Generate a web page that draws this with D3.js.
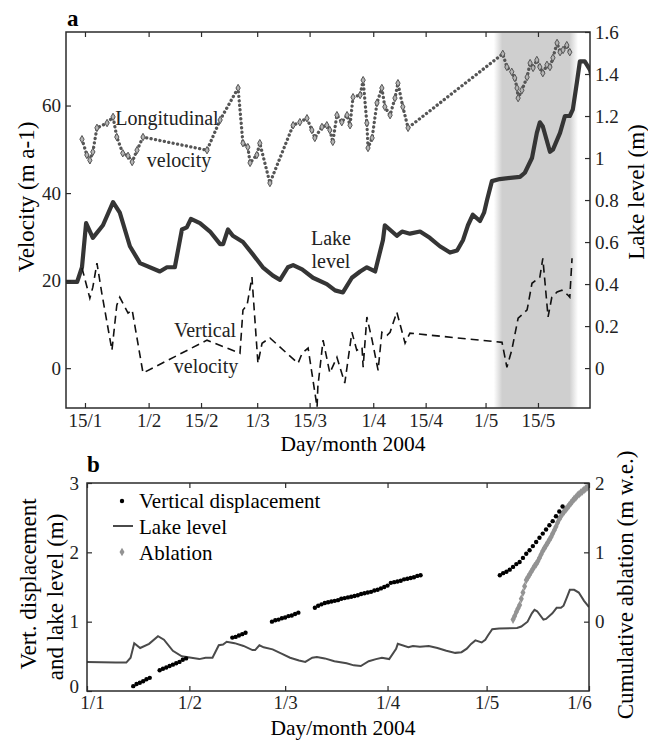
<!DOCTYPE html>
<html><head><meta charset="utf-8">
<script src="https://cdn.jsdelivr.net/npm/d3@7"></script>
<style>
body{margin:0;background:#fff;}
svg{display:block;font-family:"Liberation Serif","Times New Roman",serif;}
</style></head>
<body><svg id="c" width="648" height="740"></svg>
<script>
// ---------- DATA (day of year 2004) ----------
const aTickDays = [15, 32, 46, 61, 75, 92, 106, 122, 136];
const aTickLabels = ["15/1","1/2","15/2","1/3","15/3","1/4","15/4","1/5","15/5"];
const bTickDays = [1, 32, 61, 92, 122, 153];
const bTickLabels = ["1/1","1/2","1/3","1/4","1/5","1/6"];
const velTicks = [0, 20, 40, 60];
const lakeTicks = [0, 0.2, 0.4, 0.6, 0.8, 1, 1.2, 1.4, 1.6];
const dispTicks = [0, 1, 2, 3];
const ablTicks = [0, 1, 2];
const shadeDays = [125.8, 145.1];

const lakeDays = [1, 9.7, 12.9, 14.2, 15.3, 17.1, 19.8, 22.5, 24.3, 27.0, 29.7, 35.0, 36.9, 39.0, 40.9, 42.2, 43.3, 45.7, 48.4, 51.1, 51.9, 53.2, 54.5, 57.2, 59.9, 62.5, 65.2, 67.1, 69.2, 70.6, 73.0, 75.9, 79.6, 81.8, 83.9, 86.3, 88.5, 90.3, 92.5, 94.6, 95.1, 98.3, 99.7, 101.8, 104.5, 107.1, 109.8, 112.5, 114.4, 116.0, 117.3, 118.6, 120.5, 121.6, 122.4, 123.7, 125.8, 131.2, 132.5, 134.4, 135.7, 136.5, 137.3, 139.2, 140.0, 141.9, 143.2, 144.5, 145.3, 146.4, 147.2, 148.5, 149.9, 151.5, 153];
const lakeLevel = [0.42, 0.41, 0.41, 0.48, 0.69, 0.62, 0.68, 0.79, 0.74, 0.58, 0.50, 0.46, 0.48, 0.48, 0.66, 0.67, 0.71, 0.69, 0.65, 0.59, 0.59, 0.66, 0.63, 0.60, 0.54, 0.48, 0.44, 0.42, 0.48, 0.49, 0.47, 0.43, 0.40, 0.37, 0.36, 0.43, 0.46, 0.48, 0.46, 0.61, 0.68, 0.63, 0.65, 0.64, 0.65, 0.62, 0.58, 0.55, 0.56, 0.61, 0.68, 0.73, 0.70, 0.74, 0.80, 0.89, 0.90, 0.91, 0.93, 1.00, 1.12, 1.17, 1.15, 1.03, 1.04, 1.12, 1.20, 1.20, 1.23, 1.36, 1.46, 1.46, 1.42, 1.30, 1.21];

const lonDays = [14.2, 15.5, 16.3, 17.1, 18.2, 20.9, 22.5, 23.5, 25.1, 26.5, 27.6, 28.9, 30.5, 47.6, 51.1, 55.9, 57.2, 58.5, 59.1, 60.9, 61.7, 64.4, 70.6, 72.4, 74.3, 75.6, 76.4, 78.3, 79.6, 80.4, 81.2, 82.3, 83.6, 85.0, 85.8, 86.6, 88.5, 89.3, 90.3, 90.6, 91.7, 93.0, 94.3, 95.1, 96.5, 97.8, 98.6, 99.9, 101.3, 126.6, 127.7, 129.0, 129.8, 130.4, 130.7, 131.7, 133.1, 133.9, 134.7, 135.7, 136.5, 137.3, 138.4, 139.2, 140.0, 141.1, 141.9, 142.7, 143.7, 144.5];
const lonVel = [52.3, 48.7, 47.5, 49.4, 54.9, 56.0, 57.4, 52.8, 49.1, 48.5, 47.1, 49.8, 52.8, 49.8, 56.7, 64.0, 51.4, 50.5, 46.9, 48.7, 51.4, 42.3, 55.5, 56.2, 57.1, 54.4, 52.6, 55.1, 55.5, 54.4, 51.7, 57.8, 56.2, 57.8, 55.5, 61.9, 62.4, 65.8, 56.0, 50.3, 52.6, 60.6, 64.0, 59.7, 57.8, 61.7, 65.1, 59.7, 54.9, 71.8, 68.8, 67.7, 66.3, 64.0, 61.7, 63.5, 66.5, 69.7, 68.6, 70.4, 68.8, 67.4, 69.3, 68.8, 70.9, 74.3, 72.2, 72.7, 73.8, 72.2];

const vertDays = [14.2, 16.3, 17.1, 18.2, 19.5, 22.2, 23.5, 24.3, 26.5, 27.6, 30.5, 47.6, 56.4, 57.2, 58.3, 59.6, 61.2, 62.3, 64.4, 71.9, 73.0, 74.6, 77.0, 77.2, 78.6, 80.4, 82.3, 83.1, 84.4, 86.3, 87.6, 89.0, 89.3, 90.3, 91.7, 93.3, 94.3, 95.7, 96.5, 98.3, 100.5, 101.8, 126.4, 127.7, 129.0, 130.7, 133.1, 134.4, 136.5, 137.3, 138.7, 139.7, 141.1, 142.4, 144.0, 144.5, 145.1];
const vertVel = [22.9, 16.0, 18.5, 24.0, 17.1, 4.1, 14.4, 16.2, 12.6, 13.3, -1.1, 6.4, 3.4, 13.3, 14.4, 20.8, 1.1, 5.7, 6.9, 1.1, 3.4, 4.6, -8.9, -4.3, 6.4, -1.1, 2.5, 0.2, -3.4, 8.2, 4.1, 4.8, 0.2, 11.7, 6.4, -0.5, 8.2, 7.5, 8.2, 12.8, 5.7, 8.0, 5.9, 0.2, 4.1, 11.4, 13.3, 19.4, 20.8, 25.1, 11.7, 16.2, 17.4, 17.8, 16.7, 16.2, 25.1];

const dispDays = [15, 16, 17, 18, 19, 20, 23, 24, 25, 26, 27, 28, 29, 30, 31, 45, 46, 47, 48, 49, 57, 58, 59, 60, 61, 62, 63, 64, 65, 70, 71, 72, 73, 74, 75, 76, 77, 78, 79, 80, 81, 82, 83, 84, 85, 86, 87, 88, 89, 90, 91, 92, 93, 94, 95, 96, 97, 98, 99, 100, 101, 102, 126, 127, 128, 129, 130, 131, 132, 133, 134, 135, 136, 137, 138, 139, 140, 141, 142, 143, 144, 145];
const dispVal = [0.07, 0.10, 0.12, 0.14, 0.17, 0.19, 0.30, 0.32, 0.34, 0.36, 0.38, 0.40, 0.42, 0.45, 0.47, 0.77, 0.78, 0.80, 0.82, 0.84, 1.00, 1.02, 1.03, 1.05, 1.06, 1.08, 1.09, 1.11, 1.13, 1.20, 1.23, 1.25, 1.27, 1.28, 1.29, 1.30, 1.31, 1.33, 1.34, 1.35, 1.36, 1.37, 1.38, 1.40, 1.41, 1.42, 1.43, 1.45, 1.46, 1.48, 1.50, 1.52, 1.56, 1.57, 1.58, 1.59, 1.61, 1.62, 1.63, 1.64, 1.66, 1.67, 1.67, 1.70, 1.72, 1.75, 1.79, 1.83, 1.86, 1.92, 1.98, 2.03, 2.09, 2.15, 2.21, 2.27, 2.33, 2.39, 2.45, 2.52, 2.59, 2.66];

const ablDays = [130, 130.5, 131, 131.5, 132, 132.5, 133, 133.5, 134, 134.5, 135, 135.5, 136, 136.5, 137, 137.5, 138, 138.5, 139, 139.5, 140, 140.5, 141, 141.5, 142, 142.5, 143, 143.5, 144, 144.5, 145, 145.5, 146, 146.5, 147, 147.5, 148, 148.5, 149, 149.5, 150, 150.5, 151, 151.5, 152, 152.5, 153];
const ablVal = [0.03, 0.08, 0.14, 0.19, 0.24, 0.33, 0.42, 0.51, 0.60, 0.64, 0.68, 0.72, 0.76, 0.80, 0.83, 0.87, 0.92, 0.97, 1.02, 1.06, 1.10, 1.14, 1.18, 1.22, 1.27, 1.32, 1.37, 1.43, 1.48, 1.52, 1.56, 1.59, 1.62, 1.65, 1.68, 1.71, 1.74, 1.77, 1.79, 1.82, 1.84, 1.86, 1.88, 1.90, 1.92, 1.94, 1.96];

// ---------- DRAW ----------
const svg = d3.select("#c");
const FONT = 19, LABF = 21.5, YLABF = 23;
const frame = "#2b2b2b";
const zip = (xs, ys) => xs.map((x, i) => [x, ys[i]]);

const defs = svg.append("defs");
const grad = defs.append("linearGradient").attr("id", "shadeGrad").attr("x1", 0).attr("x2", 1).attr("y1", 0).attr("y2", 0);
[[0, 0], [0.1, 1], [0.9, 1], [1, 0]].forEach(([o, op]) =>
  grad.append("stop").attr("offset", o).attr("stop-color", "#cfcfcf").attr("stop-opacity", op));

function clip(id, x0, y0, w, h) {
  defs.append("clipPath").attr("id", id).append("rect").attr("x", x0).attr("y", y0).attr("width", w).attr("height", h);
}

function styleAxis(g, size) {
  g.select(".domain").remove();
  g.selectAll(".tick line").attr("stroke", frame).attr("stroke-width", 1.2);
  g.selectAll("text").attr("font-size", size).attr("fill", "#222").attr("font-family", "Liberation Serif");
}

// ===== Panel a =====
const A = {l: 66, r: 590, t: 32, b: 408};
const xa = d3.scaleLinear().domain([9.93, 149.9]).range([A.l, A.r]);
const yv = d3.scaleLinear().domain([-9.1, 76.8]).range([A.b, A.t]);
const yl = d3.scaleLinear().domain([-0.19, 1.6]).range([A.b, A.t]);
clip("clipA", A.l, A.t, A.r - A.l, A.b - A.t);

// shaded period
svg.append("rect").attr("x", xa(shadeDays[0]) - 6).attr("y", A.t + 1)
  .attr("width", xa(shadeDays[1]) - xa(shadeDays[0]) + 12).attr("height", A.b - A.t - 1)
  .attr("fill", "url(#shadeGrad)");

const ga = svg.append("g").attr("clip-path", "url(#clipA)");

// lake level (thick)
ga.append("path").datum(zip(lakeDays, lakeLevel))
  .attr("d", d3.line().x(d => xa(d[0])).y(d => yl(d[1])))
  .attr("fill", "none").attr("stroke", "#353535").attr("stroke-width", 4.2).attr("stroke-linejoin", "round");

// longitudinal velocity (dotted + diamonds)
ga.append("path").datum(zip(lonDays, lonVel))
  .attr("d", d3.line().x(d => xa(d[0])).y(d => yv(d[1])))
  .attr("fill", "none").attr("stroke", "#555").attr("stroke-width", 3.3)
  .attr("stroke-dasharray", "0.1,4.4").attr("stroke-linecap", "round");
ga.selectAll(".lon").data(zip(lonDays, lonVel)).join("path")
  .attr("transform", d => `translate(${xa(d[0])},${yv(d[1])})`)
  .attr("d", d3.symbol(d3.symbolDiamond, 16))
  .attr("fill", "#b5b5b5").attr("stroke", "#555").attr("stroke-width", 1);

// vertical velocity (dashed)
ga.append("path").datum(zip(vertDays, vertVel))
  .attr("d", d3.line().x(d => xa(d[0])).y(d => yv(d[1])))
  .attr("fill", "none").attr("stroke", "#111").attr("stroke-width", 1.6)
  .attr("stroke-dasharray", "8,5");

// frame
svg.append("rect").attr("x", A.l).attr("y", A.t).attr("width", A.r - A.l).attr("height", A.b - A.t)
  .attr("fill", "none").attr("stroke", frame).attr("stroke-width", 1.5);

// axes
const fmtA = d => aTickLabels[aTickDays.indexOf(d)];
svg.append("g").attr("transform", `translate(0,${A.b})`)
  .call(d3.axisBottom(xa).tickValues(aTickDays).tickFormat(fmtA).tickSizeInner(-5).tickSizeOuter(0).tickPadding(6))
  .call(g => styleAxis(g, FONT));
svg.append("g").attr("transform", `translate(0,${A.t})`)
  .call(d3.axisTop(xa).tickValues(aTickDays).tickFormat("").tickSizeInner(-5).tickSizeOuter(0))
  .call(g => styleAxis(g, FONT));
svg.append("g").attr("transform", `translate(${A.l},0)`)
  .call(d3.axisLeft(yv).tickValues(velTicks).tickFormat(d3.format("d")).tickSizeInner(-5).tickSizeOuter(0).tickPadding(5))
  .call(g => styleAxis(g, FONT));
svg.append("g").attr("transform", `translate(${A.r},0)`)
  .call(d3.axisRight(yl).tickValues(lakeTicks).tickFormat(d => d3.format("")(+d.toFixed(1))).tickSizeInner(-5).tickSizeOuter(0).tickPadding(5))
  .call(g => styleAxis(g, FONT));

// labels panel a
svg.append("text").attr("x", 67).attr("y", 26).attr("font-size", 23).attr("font-weight", "bold").text("a");
svg.append("text").attr("x", 353).attr("y", 451).attr("text-anchor", "middle").attr("font-size", LABF).text("Day/month 2004");
svg.append("text").attr("transform", "translate(34,197) rotate(-90)").attr("text-anchor", "middle").attr("font-size", YLABF).text("Velocity (m a-1)");
svg.append("text").attr("transform", "translate(644,192) rotate(-90)").attr("text-anchor", "middle").attr("font-size", YLABF).text("Lake level (m)");

const ann = [["Longitudinal", 167, 125], ["velocity", 179, 167], ["Lake", 331, 245], ["level", 331, 268], ["Vertical", 205, 337], ["velocity", 206, 373]];
ann.forEach(([t, x, y]) => svg.append("text").attr("x", x).attr("y", y).attr("text-anchor", "middle").attr("font-size", 20).attr("fill", "#222").text(t));

// ===== Panel b =====
const B = {l: 87, r: 589, t: 483, b: 691};
const xb = d3.scaleLinear().domain([1, 153]).range([B.l, B.r]);
const yd = d3.scaleLinear().domain([0, 3]).range([B.b, B.t]);
const ya = d3.scaleLinear().domain([-1, 2]).range([B.b, B.t]);
clip("clipB", B.l, B.t, B.r - B.l, B.b - B.t);
const gb = svg.append("g").attr("clip-path", "url(#clipB)");

gb.append("path").datum(zip(lakeDays, lakeLevel))
  .attr("d", d3.line().x(d => xb(d[0])).y(d => yd(d[1])))
  .attr("fill", "none").attr("stroke", "#4a4a4a").attr("stroke-width", 2);
gb.selectAll(".abl").data(zip(ablDays, ablVal)).join("path")
  .attr("transform", d => `translate(${xb(d[0])},${ya(d[1])})`)
  .attr("d", d3.symbol(d3.symbolDiamond, 22))
  .attr("fill", "#939393");
gb.selectAll(".disp").data(zip(dispDays, dispVal)).join("circle")
  .attr("cx", d => xb(d[0])).attr("cy", d => yd(d[1])).attr("r", 2.2).attr("fill", "#000");

svg.append("rect").attr("x", B.l).attr("y", B.t).attr("width", B.r - B.l).attr("height", B.b - B.t)
  .attr("fill", "none").attr("stroke", frame).attr("stroke-width", 1.5);

const fmtB = d => bTickLabels[bTickDays.indexOf(d)];
svg.append("g").attr("transform", `translate(0,${B.b})`)
  .call(d3.axisBottom(xb).tickValues(bTickDays).tickFormat(fmtB).tickSizeInner(-5).tickSizeOuter(0).tickPadding(5))
  .call(g => styleAxis(g, FONT))
  .call(g => g.selectAll(".tick text").attr("dx", d => d === 1 ? 5 : (d === 153 ? -10 : 0)));
svg.append("g").attr("transform", `translate(0,${B.t})`)
  .call(d3.axisTop(xb).tickValues(bTickDays).tickFormat("").tickSizeInner(-5).tickSizeOuter(0))
  .call(g => styleAxis(g, FONT));
svg.append("g").attr("transform", `translate(${B.l},0)`)
  .call(d3.axisLeft(yd).tickValues(dispTicks).tickFormat(d3.format("d")).tickSizeInner(-5).tickSizeOuter(0).tickPadding(8))
  .call(g => styleAxis(g, FONT))
  .call(g => g.selectAll(".tick text").attr("dy", d => d === 0 ? "0.1em" : "0.32em"));
svg.append("g").attr("transform", `translate(${B.r},0)`)
  .call(d3.axisRight(ya).tickValues(ablTicks).tickFormat(d3.format("d")).tickSizeInner(-5).tickSizeOuter(0).tickPadding(6))
  .call(g => styleAxis(g, FONT));

svg.append("text").attr("x", 87).attr("y", 472).attr("font-size", 23).attr("font-weight", "bold").text("b");
svg.append("text").attr("x", 343).attr("y", 735).attr("text-anchor", "middle").attr("font-size", LABF).text("Day/month 2004");
svg.append("text").attr("transform", "translate(36,584) rotate(-90)").attr("text-anchor", "middle").attr("font-size", YLABF).text("Vert. displacement");
svg.append("text").attr("transform", "translate(63,597) rotate(-90)").attr("text-anchor", "middle").attr("font-size", YLABF).text("and lake level (m)");
svg.append("text").attr("transform", "translate(633,585) rotate(-90)").attr("text-anchor", "middle").attr("font-size", YLABF).text("Cumulative ablation (m w.e.)");

// legend
const lg = svg.append("g").attr("font-size", 21);
lg.append("circle").attr("cx", 122).attr("cy", 501).attr("r", 2.2).attr("fill", "#000");
lg.append("text").attr("x", 139).attr("y", 508).text("Vertical displacement");
lg.append("line").attr("x1", 113).attr("x2", 133).attr("y1", 526).attr("y2", 526).attr("stroke", "#4a4a4a").attr("stroke-width", 2);
lg.append("text").attr("x", 139).attr("y", 534).text("Lake level");
lg.append("path").attr("transform", "translate(122,552)").attr("d", d3.symbol(d3.symbolDiamond, 22)).attr("fill", "#939393");
lg.append("text").attr("x", 139).attr("y", 560).text("Ablation");
</script></body></html>
